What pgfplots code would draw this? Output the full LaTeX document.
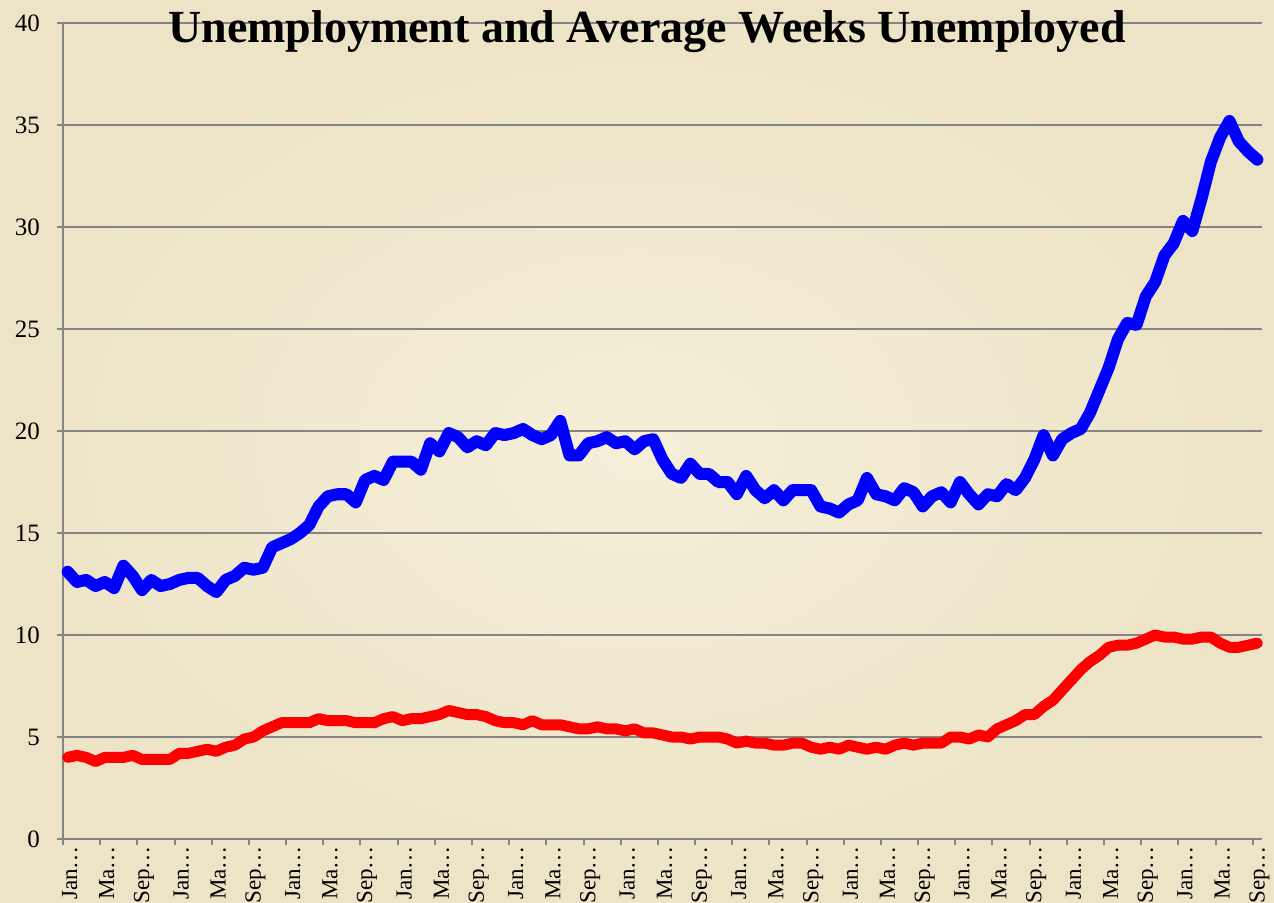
\documentclass[border=0pt]{standalone}
\usepackage{pgfplots}
\pgfplotsset{compat=1.18}
\usepackage{pgfplotstable}
\usepackage{fontspec}
\setmainfont{Liberation Serif}
\definecolor{paper}{RGB}{245,239,217}
\definecolor{paperdark}{RGB}{237,228,199}
\definecolor{gridgray}{RGB}{132,132,132}
\pgfplotstableread{
idx ur dur
0 4.0 13.1
1 4.1 12.6
2 4.0 12.7
3 3.8 12.4
4 4.0 12.6
5 4.0 12.3
6 4.0 13.4
7 4.1 12.9
8 3.9 12.2
9 3.9 12.7
10 3.9 12.4
11 3.9 12.5
12 4.2 12.7
13 4.2 12.8
14 4.3 12.8
15 4.4 12.4
16 4.3 12.1
17 4.5 12.7
18 4.6 12.9
19 4.9 13.3
20 5.0 13.2
21 5.3 13.3
22 5.5 14.3
23 5.7 14.5
24 5.7 14.7
25 5.7 15.0
26 5.7 15.4
27 5.9 16.3
28 5.8 16.8
29 5.8 16.9
30 5.8 16.9
31 5.7 16.5
32 5.7 17.6
33 5.7 17.8
34 5.9 17.6
35 6.0 18.5
36 5.8 18.5
37 5.9 18.5
38 5.9 18.1
39 6.0 19.4
40 6.1 19.0
41 6.3 19.9
42 6.2 19.7
43 6.1 19.2
44 6.1 19.5
45 6.0 19.3
46 5.8 19.9
47 5.7 19.8
48 5.7 19.9
49 5.6 20.1
50 5.8 19.8
51 5.6 19.6
52 5.6 19.8
53 5.6 20.5
54 5.5 18.8
55 5.4 18.8
56 5.4 19.4
57 5.5 19.5
58 5.4 19.7
59 5.4 19.4
60 5.3 19.5
61 5.4 19.1
62 5.2 19.5
63 5.2 19.6
64 5.1 18.6
65 5.0 17.9
66 5.0 17.7
67 4.9 18.4
68 5.0 17.9
69 5.0 17.9
70 5.0 17.5
71 4.9 17.5
72 4.7 16.9
73 4.8 17.8
74 4.7 17.1
75 4.7 16.7
76 4.6 17.1
77 4.6 16.6
78 4.7 17.1
79 4.7 17.1
80 4.5 17.1
81 4.4 16.3
82 4.5 16.2
83 4.4 16.0
84 4.6 16.4
85 4.5 16.6
86 4.4 17.7
87 4.5 16.9
88 4.4 16.8
89 4.6 16.6
90 4.7 17.2
91 4.6 17.0
92 4.7 16.3
93 4.7 16.8
94 4.7 17.0
95 5.0 16.5
96 5.0 17.5
97 4.9 16.9
98 5.1 16.4
99 5.0 16.9
100 5.4 16.8
101 5.6 17.4
102 5.8 17.1
103 6.1 17.7
104 6.1 18.6
105 6.5 19.8
106 6.8 18.8
107 7.3 19.6
108 7.8 19.9
109 8.3 20.1
110 8.7 20.9
111 9.0 22.0
112 9.4 23.1
113 9.5 24.5
114 9.5 25.3
115 9.6 25.2
116 9.8 26.6
117 10.0 27.3
118 9.9 28.6
119 9.9 29.2
120 9.8 30.3
121 9.8 29.8
122 9.9 31.4
123 9.9 33.2
124 9.6 34.4
125 9.4 35.2
126 9.4 34.2
127 9.5 33.7
128 9.6 33.3
}\datatable
\begin{document}
\begin{tikzpicture}
\shade[inner color=paper, outer color=paperdark] (0,0) rectangle (637pt,451pt);
\useasboundingbox (0,0) rectangle (637pt,451pt);
\begin{axis}[
  at={(31.5pt,31.5pt)}, anchor=south west,
  scale only axis, width=599.5pt, height=408pt,
  xmin=-0.5, xmax=128.5, ymin=0, ymax=40,
  axis x line=bottom, axis y line=left,
  axis line style={-, draw=gridgray, line width=1pt},
  ytick={0,5,...,40},
  ymajorgrids, grid style={draw=gridgray, line width=1pt},
  tick align=outside, major tick length=3pt,
  tick style={draw=gridgray, line width=1pt},
  xtick={-0.5,3.5,...,127.5}, xticklabels={},
  extra x ticks={0,4,...,128},
  extra x tick labels={Jan…,Ma…,Sep…,Jan…,Ma…,Sep…,Jan…,Ma…,Sep…,Jan…,Ma…,Sep…,Jan…,Ma…,Sep…,Jan…,Ma…,Sep…,Jan…,Ma…,Sep…,Jan…,Ma…,Sep…,Jan…,Ma…,Sep…,Jan…,Ma…,Sep…,Jan…,Ma…,Sep…},
  extra x tick style={major tick length=0pt, grid=none,
     xticklabel style={rotate=90, anchor=east, font=\fontsize{11.5}{11.5}\selectfont, yshift=-1pt}},
  yticklabel style={font=\fontsize{12.5}{12.5}\selectfont, xshift=-5pt},
  /pgf/number format/assume math mode=true,
  clip=false,
]
\addplot[blue, line width=6pt, line join=round, line cap=round] table[x=idx, y=dur] {\datatable};
\addplot[red, line width=5.5pt, line join=round, line cap=round] table[x=idx, y=ur] {\datatable};
\end{axis}
\node[anchor=base, font=\fontsize{23}{23}\selectfont\bfseries] at (323.5pt,429.5pt) {Unemployment and Average Weeks Unemployed};
\end{tikzpicture}
\end{document}
